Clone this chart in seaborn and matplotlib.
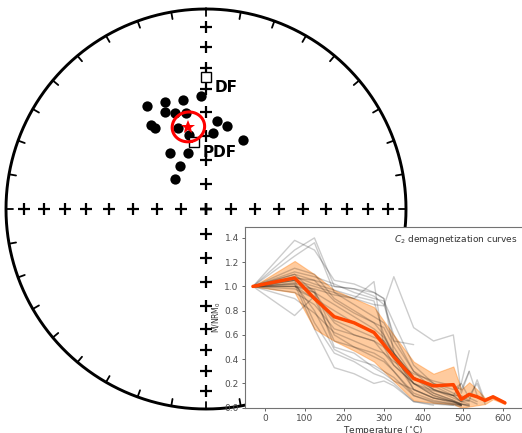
import numpy as np
import pandas as pd
import matplotlib
matplotlib.use("Agg")
import matplotlib.pyplot as plt
import seaborn as sns

# --- site directions (declination, inclination) ---
site_dec = [330.3, 339.1, 337.2, 348.2, 357.3, 342.1, 348.3, 326.6, 327.7, 341.1,
            347.3, 5.0, 7.3, 14.4, 28.4, 327.1, 342.5, 328.8, 313.8]
site_inc = [40.4, 42.1, 46.2, 43.6, 42.9, 48.3, 49.3, 48.3, 50.6, 54.9,
            58.9, 58.6, 53.4, 54.7, 57.8, 62.9, 65.9, 69.5, 72.5]
mean_dec, mean_inc, mean_a95 = 347.9, 55.4, 6.3
ref_names = ["DF", "PDF"]
ref_dec = [0.0, 349.9]
ref_inc = [34.2, 62.0]

# --- demagnetization curves ---
temps = [-30, 75, 125, 175, 225, 275, 300, 325, 375, 425, 475, 495, 515, 535, 555]
nan = np.nan
curves = [
    [1.0, 1.38, 1.30, 1.05, 1.02, 0.95, 0.90, 0.45, 0.15, 0.08, 0.05, 0.03, 0.02, nan, nan],
    [1.0, 1.30, 1.40, 1.00, 0.98, 0.92, 0.85, 0.60, 0.30, 0.15, 0.08, 0.05, 0.03, nan, nan],
    [1.0, 1.25, 1.36, 0.95, 0.90, 1.04, 0.50, 0.35, 0.20, 0.12, 0.06, 0.03, nan, nan, nan],
    [1.0, 0.76, 0.92, 0.70, 0.60, 0.55, 0.45, 0.35, 0.20, 0.10, 0.05, 0.02, nan, nan, nan],
    [1.0, 1.10, 0.95, 0.50, 0.45, 0.33, 0.28, 0.22, 0.15, 0.08, 0.04, 0.02, nan, nan, nan],
    [1.0, 1.05, 0.70, 0.45, 0.38, 0.28, 0.25, 0.20, 0.05, 0.03, 0.02, nan, nan, nan, nan],
    [1.0, 1.02, 0.65, 0.33, 0.28, 0.20, 0.22, 0.18, 0.05, 0.02, nan, nan, nan, nan, nan],
    [1.0, 1.00, 0.98, 0.93, 0.90, 0.85, 0.84, 1.08, 0.66, 0.55, 0.60, 0.12, 0.30, nan, nan],
    [1.0, 1.05, 1.00, 0.95, 0.85, 0.75, 0.70, 0.55, 0.52, nan, nan, nan, nan, nan, nan],
    [1.0, 1.10, 1.05, 1.00, 0.98, 0.95, 0.90, 0.55, 0.30, 0.20, 0.15, 0.20, 0.47, nan, nan],
    [1.0, 0.98, 0.90, 0.80, 0.70, 0.62, 0.55, 0.45, 0.25, 0.18, 0.10, 0.10, 0.06, 0.23, 0.05],
    [1.0, 1.03, 0.95, 0.85, 0.75, 0.65, 0.58, 0.45, 0.25, 0.15, 0.10, 0.05, 0.10, 0.20, 0.03],
    [1.0, 0.95, 0.85, 0.65, 0.60, 0.55, 0.50, 0.42, 0.20, 0.10, 0.05, 0.03, 0.02, nan, nan],
    [1.0, 1.00, 0.90, 0.55, 0.50, 0.45, 0.40, 0.30, 0.10, 0.05, 0.03, 0.02, nan, nan, nan],
    [1.0, 1.12, 1.08, 1.02, 0.95, 0.90, 0.88, 0.70, 0.35, 0.20, 0.12, 0.08, 0.05, nan, nan],
    [1.0, 1.08, 1.02, 0.97, 0.92, 0.88, 0.60, 0.45, 0.25, 0.15, 0.10, 0.05, 0.06, 0.03, nan],
    [1.0, 1.00, 0.95, 0.72, 0.65, 0.58, 0.55, 0.40, 0.15, 0.08, 0.05, 0.02, nan, nan, nan],
    [1.0, 1.05, 0.97, 0.60, 0.50, 0.42, 0.38, 0.30, 0.12, 0.06, 0.03, 0.02, nan, nan, nan],
    [1.0, 1.15, 1.10, 0.90, 0.80, 0.70, 0.60, 0.42, 0.20, 0.14, 0.10, 0.20, 0.08, 0.05, nan],
    [1.0, 0.90, 0.78, 0.62, 0.55, 0.48, 0.45, 0.38, 0.28, 0.22, 0.18, 0.15, 0.30, 0.10, nan],
    [1.0, 1.02, 0.80, 0.48, 0.40, 0.35, 0.30, 0.25, 0.10, 0.04, 0.02, 0.01, nan, nan, nan],
    [1.0, 1.07, 1.05, 0.88, 0.78, 0.70, 0.66, 0.50, 0.25, 0.12, 0.06, 0.03, 0.01, nan, nan],
]

mean_temps = [-30, 75, 125, 175, 225, 275, 325, 375, 425, 475, 495, 515, 535, 555, 575, 605]
mean_curve = [1.0, 1.07, 0.90, 0.75, 0.70, 0.62, 0.42, 0.24, 0.18, 0.19, 0.07, 0.11, 0.09, 0.06, 0.09, 0.04]
band_upper = [1.0, 1.21, 1.10, 0.97, 0.90, 0.83, 0.60, 0.38, 0.28, 0.34, 0.15, 0.21, 0.15, 0.08, 0.10, 0.05]
band_lower = [1.0, 0.95, 0.65, 0.55, 0.47, 0.38, 0.22, 0.06, 0.04, 0.03, 0.00, 0.01, 0.02, 0.03, 0.07, 0.03]


def dimap(dec, inc):
    """Equal-area projection, north up."""
    d = np.radians(np.asarray(dec, dtype=float))
    i = np.radians(np.asarray(inc, dtype=float))
    r = np.sqrt(1 - np.abs(np.sin(i)))
    return r * np.sin(d), r * np.cos(d)


def small_circle(dec, inc, alpha, n=121):
    d, i = np.radians(dec), np.radians(inc)
    c = np.array([np.cos(i) * np.cos(d), np.cos(i) * np.sin(d), np.sin(i)])
    u = np.array([-np.sin(i) * np.cos(d), -np.sin(i) * np.sin(d), np.cos(i)])
    w = np.cross(c, u)
    t = np.linspace(0, 2 * np.pi, n)
    a = np.radians(alpha)
    v = (np.cos(a) * c[:, None] + np.sin(a) * (np.cos(t) * u[:, None] + np.sin(t) * w[:, None]))
    decs = np.degrees(np.arctan2(v[1], v[0]))
    incs = np.degrees(np.arcsin(v[2]))
    return dimap(decs, incs)


sns.set_style("ticks")
fig = plt.figure(figsize=(5.22, 4.33), dpi=100)

# --- stereonet ---
ax = fig.add_axes([0, 0, 1, 1])
ax.set_xlim(-1.03, 1.58)
ax.set_ylim(-1.12, 1.045)
ax.axis("off")

cx, cy = dimap(np.arange(0, 361, 1), np.zeros(361))
ax.plot(cx, cy, color="k", lw=2.1)
for D in range(0, 360, 10):
    tx, ty = dimap([D] * 5, range(5))
    ax.plot(tx, ty, color="k", lw=1.3)
for D in [0, 90, 180, 270]:
    px, py = dimap([D] * 9, range(10, 100, 10))
    ax.plot(px, py, "k+", ms=8.5, mew=1.6)

sx, sy = dimap(site_dec, site_inc)
sns.scatterplot(x=sx, y=sy, ax=ax, color="k", s=55, edgecolor="k", linewidth=0, zorder=3)

rx, ry = dimap(ref_dec, ref_inc)
ax.plot(rx, ry, "s", ms=7.5, mfc="white", mec="k", mew=1.0, zorder=4)
for name, x0, y0 in zip(ref_names, rx, ry):
    ax.annotate(name, (x0, y0), xytext=(6, -7.5), textcoords="offset points",
                ha="left", va="center", fontsize=11, fontweight="bold", color="k", zorder=5)

ccx, ccy = small_circle(mean_dec, mean_inc, mean_a95)
ax.plot(ccx, ccy, color="red", lw=2.2, zorder=5)
mx, my = dimap(mean_dec, mean_inc)
ax.plot(mx, my, "*", color="red", ms=10, mew=0, zorder=6)

# --- inset with demagnetization curves ---
ins = fig.add_axes([245 / 522, 25.3 / 433, 277 / 522, 180.7 / 433])
ins.set_facecolor("white")
rows = []
for k, c in enumerate(curves):
    for t, v in zip(temps, c):
        if not np.isnan(v):
            rows.append({"curve": k, "temp": t, "m": v})
df = pd.DataFrame(rows)
sns.lineplot(data=df, x="temp", y="m", units="curve", estimator=None, ax=ins,
             color="k", alpha=0.2, lw=1.0, zorder=2)
ins.fill_between(mean_temps, band_lower, band_upper, color="#ff7f0e", alpha=0.4, lw=0.8, zorder=1)
sns.lineplot(x=mean_temps, y=mean_curve, ax=ins, color="#ff4500", lw=2.5, zorder=3)

ins.set_xlim(-50, 648)
ins.set_ylim(0, 1.49)
ins.set_xticks(range(0, 601, 100))
ins.set_yticks(np.arange(0, 1.41, 0.2))
ins.set_yticklabels([f"{v:.1f}" for v in np.arange(0, 1.41, 0.2)])
ins.tick_params(labelsize=6.5, length=2.5, width=0.6, colors="0.3", pad=2)
ins.set_xlabel("Temperature ($^{\\circ}$C)", fontsize=6.5, labelpad=1, color="0.2")
ins.set_ylabel("M/NRM$_0$", fontsize=5.5, labelpad=1, color="0.2")
for s in ins.spines.values():
    s.set_color("0.45")
    s.set_linewidth(0.8)
ins.spines["right"].set_visible(False)
ins.text(0.985, 0.965, "$C_2$ demagnetization curves", transform=ins.transAxes,
         ha="right", va="top", fontsize=6.5, color="0.2")

fig.savefig("out.png", dpi=100)
